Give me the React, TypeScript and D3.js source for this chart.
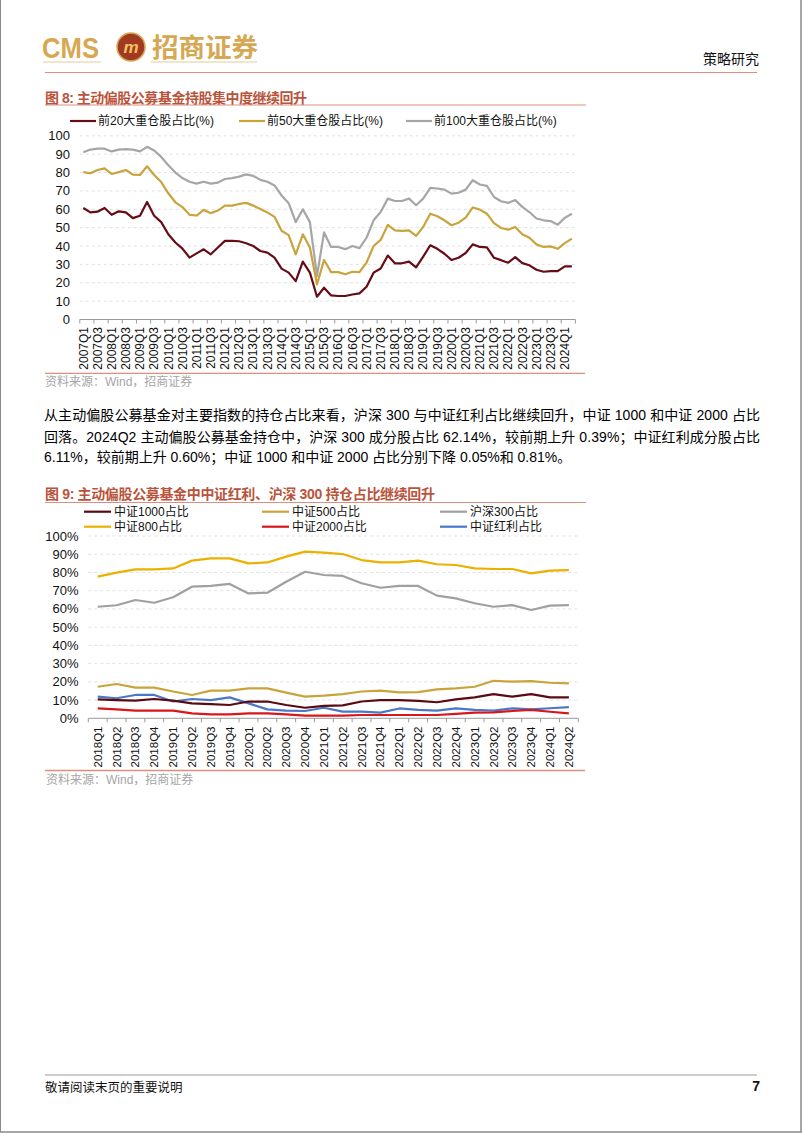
import React from 'react';
import * as d3 from 'd3';

// ---------- Chart 1 data (前20/50/100 大重仓股占比, %) ----------
const years1 = d3.range(2007, 2025);
const quarters1: string[] = years1.flatMap((y) => ['Q1', 'Q2', 'Q3', 'Q4'].map((q) => `${y}${q}`)).slice(0, 70);
const top20 = [
  60.7, 58.3, 58.7, 60.7, 57, 58.9, 58.3, 55.2, 56.5, 64,
  56.5, 53, 46.4, 41.9, 38.6, 33.7, 36, 38.2, 35.5, 39.2,
  42.8, 42.8, 42.6, 41.5, 40, 37.3, 36.4, 33.7, 27.7, 25.5,
  20.9, 31.5, 25.5, 12.4, 17.3, 13.1, 12.8, 12.8, 13.6, 14.2,
  17.8, 25.5, 27.8, 34.8, 30.6, 30.6, 31.5, 28.4, 34.2, 40.4,
  38.5, 35.8, 32.4, 33.6, 36.2, 40.9, 39.5, 39.3, 33.6, 32.3,
  30.9, 34, 30.7, 29.5, 27.1, 26, 26.3, 26.3, 28.9, 28.9,
];
const top50 = [
  80.2, 79.6, 81.4, 82.3, 79.2, 80.2, 81.4, 78.9, 78.7, 83.4,
  78.7, 74.8, 68.7, 63.8, 61.2, 57, 56.6, 59.7, 57.9, 59.3,
  62, 62, 62.9, 63.5, 62, 60.1, 58.3, 55.9, 48.3, 45.9,
  35.5, 46.4, 39.2, 19.1, 32.4, 25.8, 25.8, 24.6, 26, 25.8,
  31, 40, 43.3, 51.5, 48.5, 48.2, 48.5, 45.5, 50.4, 57.6,
  56.2, 54, 51.3, 52.7, 55.5, 61, 59.8, 57.6, 52.5, 49.8,
  48.9, 50.4, 46.4, 44.5, 40.9, 39.5, 39.8, 38.5, 41.6, 44,
];
const top100 = [
  91, 92.5, 93, 93, 91.5, 92.5, 92.7, 92.5, 91.5, 94,
  92, 88.5, 84, 80, 77, 75, 74, 75, 74, 74.5,
  76.5, 77, 77.8, 79, 78.2, 76, 75, 73, 67.5, 63.3,
  53, 60, 53, 23.7, 47.4, 39.5, 39.5, 38.3, 40, 38.8,
  44.5, 54, 58.5, 65.8, 64.5, 64.5, 65.8, 62.2, 65.8, 71.6,
  71.3, 70.7, 68.5, 69, 70.7, 75.8, 73.5, 72.7, 66.7, 64.4,
  63.5, 65, 61.3, 58.5, 55, 54, 53.6, 51.6, 55.3, 57.6,
];
const yTicks1 = [0, 10, 20, 30, 40, 50, 60, 70, 80, 90, 100];
const legend1 = ['前20大重仓股占比(%)', '前50大重仓股占比(%)', '前100大重仓股占比(%)'];

// ---------- Chart 2 data (指数成分股持仓占比, %) ----------
const quarters2: string[] = d3.range(2018, 2025).flatMap((y) => ['Q1', 'Q2', 'Q3', 'Q4'].map((q) => `${y}${q}`)).slice(0, 26);
const csi1000 = [10.4, 10, 9.7, 10.6, 9.7, 8.2, 7.8, 7.3, 9.2, 9.2, 7.3, 5.8, 6.8, 7.1, 9.2, 10, 10, 9.6, 8.8, 10.4, 11.5, 13.3, 11.9, 13.3, 11.5, 11.5];
const csi500 = [17.3, 18.8, 16.8, 16.8, 14.7, 12.8, 15.2, 15.2, 16.4, 16.4, 14.1, 11.9, 12.4, 13.3, 14.7, 15.2, 14.2, 14.4, 15.9, 16.4, 17.3, 20.6, 20.1, 20.4, 19.5, 19.2];
const hs300 = [61.2, 62, 64.9, 63.4, 66.4, 72.2, 72.6, 73.7, 68.5, 68.9, 74.9, 80.4, 78.6, 78.1, 74.1, 71.6, 72.6, 72.6, 67.3, 65.8, 63.1, 61.2, 62.1, 59.4, 61.8, 62.1];
const csi800 = [77.7, 79.9, 81.7, 81.7, 82.2, 86.5, 87.7, 87.7, 85, 85.5, 88.7, 91.4, 90.9, 90.1, 86.8, 85.5, 85.5, 86.5, 84.5, 84.1, 82.2, 81.9, 81.9, 79.5, 81, 81.3];
const csi2000 = [5.4, 4.9, 4.2, 4.2, 4.2, 2.7, 2.2, 2.2, 2.7, 2.7, 2.2, 1.5, 1.5, 1.5, 1.8, 1.8, 1.8, 1.8, 1.8, 2.4, 3.1, 3.3, 4, 4.6, 3.6, 2.7];
const dividend = [11.9, 11, 12.8, 12.8, 9.2, 10.6, 10, 11.5, 8.2, 4.9, 4.2, 4, 5.8, 3.7, 3.7, 3.1, 5.4, 4.6, 4.2, 5.4, 4.6, 4.2, 5.4, 4.9, 5.5, 6.1];
const yTicks2 = [0, 10, 20, 30, 40, 50, 60, 70, 80, 90, 100];
const legend2 = ['中证1000占比', '中证500占比', '沪深300占比', '中证800占比', '中证2000占比', '中证红利占比'];

const FONT = "'Liberation Sans', Arial, 'Noto Sans CJK SC', sans-serif";
const SALMON = '#D9907E';
const TITLE_C = '#B9533B';

export default function App() {
  // chart 1 scales
  const x1 = d3.scaleBand<string>().domain(quarters1).range([79.8, 575.4]);
  const y1 = d3.scaleLinear().domain([0, 100]).range([319.5, 135.8]);
  const cx1 = (i: number) => (x1(quarters1[i]) as number) + x1.bandwidth() / 2;
  const line1 = d3.line<number>().x((_, i) => cx1(i)).y((d) => y1(d));
  const series1 = [
    { data: top100, color: '#A6A6A6' },
    { data: top50, color: '#C9A33C' },
    { data: top20, color: '#650C16' },
  ];
  const legendPos1 = [
    { lx: 70, tx: 98, color: '#650C16' },
    { lx: 239, tx: 267, color: '#C9A33C' },
    { lx: 406, tx: 434, color: '#A6A6A6' },
  ];

  // chart 2 scales
  const x2 = d3.scaleBand<string>().domain(quarters2).range([88.3, 578.3]);
  const y2 = d3.scaleLinear().domain([0, 100]).range([718.3, 536]);
  const cx2 = (i: number) => (x2(quarters2[i]) as number) + x2.bandwidth() / 2;
  const line2 = d3.line<number>().x((_, i) => cx2(i)).y((d) => y2(d));
  const colors2 = ['#5A0A12', '#C9A43A', '#A0A0A0', '#EBB000', '#D9161C', '#4A78C8'];
  const series2 = [
    { data: hs300, color: colors2[2] },
    { data: csi800, color: colors2[3] },
    { data: csi500, color: colors2[1] },
    { data: dividend, color: colors2[5] },
    { data: csi2000, color: colors2[4] },
    { data: csi1000, color: colors2[0] },
  ];
  const legendPos2 = [
    { lx: 84, tx: 114, y: 511.7 },
    { lx: 262, tx: 292, y: 511.7 },
    { lx: 440, tx: 470, y: 511.7 },
    { lx: 84, tx: 114, y: 526.7 },
    { lx: 262, tx: 292, y: 526.7 },
    { lx: 440, tx: 470, y: 526.7 },
  ];

  return (
    <div style={{ position: 'absolute', left: 0, top: 0 }}>
      <svg width={802} height={1133} style={{ display: 'block', background: '#fff' }} fontFamily={FONT}>
        {/* page frame */}
        <line x1={0.5} y1={0} x2={0.5} y2={1132} stroke="#8a8a8a" strokeWidth={1} />
        <line x1={801} y1={0} x2={801} y2={1132} stroke="#8a8a8a" strokeWidth={1.5} />
        <line x1={0} y1={1132} x2={802} y2={1132} stroke="#8a8a8a" strokeWidth={1.5} />

        {/* header */}
        <text x={42} y={58} fontSize={30} fontWeight="bold" fill="#D6A853" textLength={57} lengthAdjust="spacingAndGlyphs">CMS</text>
        <line x1={43} y1={62} x2={101} y2={62} stroke="#E6CC95" strokeWidth={1.2} />
        <circle cx={131} cy={47} r={14} fill="#A23A22" stroke="#D6A853" strokeWidth={1.5} />
        <text x={131} y={53} fontSize={17} fontStyle="italic" fontWeight="bold" fill="#F0C460" textAnchor="middle">m</text>
        <text x={152} y={57} fontSize={26} fontWeight="bold" fill="#D6A853" textLength={106} lengthAdjust="spacingAndGlyphs" fontFamily="'Noto Sans CJK SC', sans-serif">招商证券</text>
        <line x1={151} y1={62} x2={257} y2={62} stroke="#E6CC95" strokeWidth={1.2} />
        <text x={703} y={57.5} fontSize={14} fill="#111" dominantBaseline="central" fontFamily="'Noto Sans CJK SC', sans-serif">策略研究</text>
        <line x1={45} y1={72.5} x2={757} y2={72.5} stroke={SALMON} strokeWidth={1} />

        {/* chart 1 title */}
        <text x={45} y={97.5} fontSize={14} fontWeight="bold" fill={TITLE_C} dominantBaseline="central" textLength={262} lengthAdjust="spacing">图 8: 主动偏股公募基金持股集中度继续回升</text>
        <line x1={45} y1={105} x2={586} y2={105} stroke={SALMON} strokeWidth={1} />

        {/* chart 1 legend */}
        {legend1.map((t, i) => (
          <g key={t}>
            <line x1={legendPos1[i].lx} x2={legendPos1[i].lx + 26} y1={121} y2={121} stroke={legendPos1[i].color} strokeWidth={2.2} />
            <text x={legendPos1[i].tx} y={121} fontSize={12} dominantBaseline="central" fill="#111">{t}</text>
          </g>
        ))}

        {/* chart 1 grid + y labels */}
        {yTicks1.map((v) => (
          <g key={v}>
            {v > 0 && <line x1={79.8} x2={575.4} y1={y1(v)} y2={y1(v)} stroke="#D9D9D9" strokeDasharray="3,3" strokeWidth={0.8} />}
            <text x={70} y={y1(v)} fontSize={13} textAnchor="end" dominantBaseline="central" fill="#111">{v}</text>
          </g>
        ))}
        {/* chart 1 x axis */}
        <line x1={79.8} x2={575.4} y1={y1(0)} y2={y1(0)} stroke="#9a9a9a" strokeWidth={1} />
        {quarters1.map((q, i) =>
          i % 2 === 0 ? (
            <g key={q}>
              <line x1={x1(q)} x2={x1(q)} y1={y1(0)} y2={y1(0) + 4} stroke="#9a9a9a" strokeWidth={1} />
              <text transform={`translate(${cx1(i)},${327}) rotate(-90)`} fontSize={12} textAnchor="end" dy="0.35em" fill="#111">{q}</text>
            </g>
          ) : null
        )}
        <line x1={575.4} x2={575.4} y1={y1(0)} y2={y1(0) + 4} stroke="#9a9a9a" strokeWidth={1} />
        {series1.map((s, k) => (
          <path key={k} d={line1(s.data) || ''} fill="none" stroke={s.color} strokeWidth={2.2} strokeLinejoin="round" />
        ))}
        <line x1={45} y1={373.3} x2={585} y2={373.3} stroke={SALMON} strokeWidth={1.2} />
        <text x={45} y={381.5} fontSize={12} fill="#A6A6A6" dominantBaseline="central">资料来源：Wind，招商证券</text>

        {/* paragraph */}
        <text x={44} y={415} fontSize={14} fill="#000" dominantBaseline="central" textLength={716} lengthAdjust="spacing">从主动偏股公募基金对主要指数的持仓占比来看，沪深 300 与中证红利占比继续回升，中证 1000 和中证 2000 占比</text>
        <text x={44} y={436.5} fontSize={14} fill="#000" dominantBaseline="central" textLength={716} lengthAdjust="spacing">回落。2024Q2 主动偏股公募基金持仓中，沪深 300 成分股占比 62.14%，较前期上升 0.39%；中证红利成分股占比</text>
        <text x={44} y={457} fontSize={14} fill="#000" dominantBaseline="central">6.11%，较前期上升 0.60%；中证 1000 和中证 2000 占比分别下降 0.05%和 0.81%。</text>

        {/* chart 2 title */}
        <text x={45} y={494} fontSize={14} fontWeight="bold" fill={TITLE_C} dominantBaseline="central" textLength={390} lengthAdjust="spacing">图 9: 主动偏股公募基金中中证红利、沪深 300 持仓占比继续回升</text>
        <line x1={45} y1={502.5} x2={586} y2={502.5} stroke={SALMON} strokeWidth={1} />

        {/* chart 2 legend */}
        {legend2.map((t, i) => (
          <g key={t}>
            <line x1={legendPos2[i].lx} x2={legendPos2[i].lx + 27} y1={legendPos2[i].y} y2={legendPos2[i].y} stroke={colors2[i]} strokeWidth={2.2} />
            <text x={legendPos2[i].tx} y={legendPos2[i].y} fontSize={12} dominantBaseline="central" fill="#111">{t}</text>
          </g>
        ))}

        {/* chart 2 grid + y labels */}
        {yTicks2.map((v) => (
          <g key={v}>
            {v > 0 && <line x1={88.3} x2={578.3} y1={y2(v)} y2={y2(v)} stroke="#D9D9D9" strokeDasharray="3,3" strokeWidth={0.8} />}
            <text x={78.5} y={y2(v)} fontSize={13} textAnchor="end" dominantBaseline="central" fill="#111">{`${v}%`}</text>
          </g>
        ))}
        <line x1={88.3} x2={578.3} y1={y2(0)} y2={y2(0)} stroke="#9a9a9a" strokeWidth={1} />
        {quarters2.map((q, i) => (
          <g key={q}>
            <line x1={x2(q)} x2={x2(q)} y1={y2(0)} y2={y2(0) + 4} stroke="#9a9a9a" strokeWidth={1} />
            <text transform={`translate(${cx2(i)},${726.5}) rotate(-90)`} fontSize={11.5} textAnchor="end" dy="0.35em" fill="#111">{q}</text>
          </g>
        ))}
        <line x1={578.3} x2={578.3} y1={y2(0)} y2={y2(0) + 4} stroke="#9a9a9a" strokeWidth={1} />
        {series2.map((s, k) => (
          <path key={k} d={line2(s.data) || ''} fill="none" stroke={s.color} strokeWidth={2.2} strokeLinejoin="round" />
        ))}
        <line x1={45} y1={770.5} x2={585} y2={770.5} stroke={SALMON} strokeWidth={1.6} />
        <text x={46} y={780} fontSize={12} fill="#A6A6A6" dominantBaseline="central">资料来源：Wind，招商证券</text>

        {/* footer */}
        <line x1={45} y1={1075} x2={757} y2={1075} stroke="#9a9a9a" strokeWidth={1} />
        <text x={45} y={1086} fontSize={12.5} fill="#111" dominantBaseline="central" fontFamily="'Noto Sans CJK SC', sans-serif">敬请阅读末页的重要说明</text>
        <text x={760} y={1086} fontSize={14} fontWeight="bold" fill="#111" textAnchor="end" dominantBaseline="central">7</text>
      </svg>
    </div>
  );
}
